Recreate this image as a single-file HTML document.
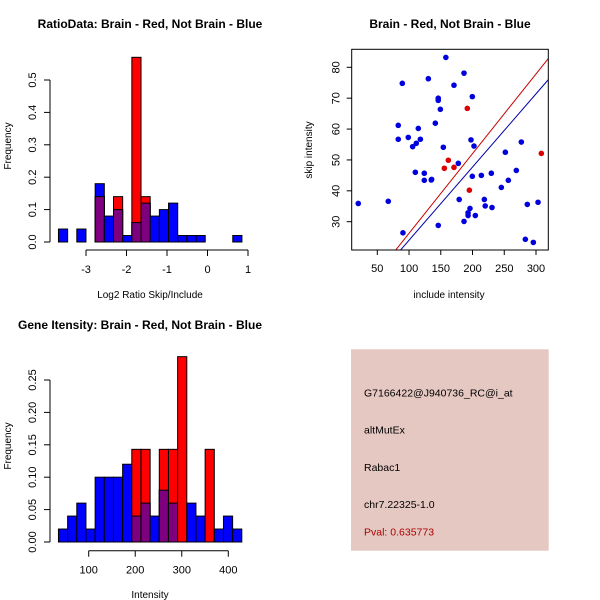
<!DOCTYPE html>
<html><head><meta charset="utf-8"><style>
body{margin:0;background:#fff;}
svg{display:block;font-family:"Liberation Sans",sans-serif;}
</style></head><body>
<svg id="s" width="600" height="600" viewBox="0 0 600 600"></svg>
<script>
// Panel 1: log2 ratio histogram (20 bins)
const ratioBinStart = -3.68;
const ratioBinWidth = 0.2265;
const ratioBlue = [0.04,0,0.04,0,0.18,0.08,0.10,0.02,0.06,0.12,0.08,0.10,0.12,0.02,0.02,0.02,0,0,0,0.02];
const ratioRed  = [0,0,0,0,0.14,0,0.14,0,0.57,0.14,0,0,0,0,0,0,0,0,0,0];
const ratioXTicks = [-3,-2,-1,0,1];
const ratioYTicks = [0,0.1,0.2,0.3,0.4,0.5];
const ratioYLabels = ["0.0","0.1","0.2","0.3","0.4","0.5"];
// Panel 2: scatter
const blueX = [20,67.3,90.4,89.4,83,83,98.8,105.7,111.4,114.6,117.8,109.9,124,124,135,135.6,130.4,141.4,146,146,149.3,154,146,158,170.8,186.6,199.7,197.6,202.3,177.6,179,186.6,193,193,196,204.4,199.7,213.9,218.6,220,230.7,229.6,245.4,251.7,256.4,269,276.9,286.3,283.2,295.8,303.2];
const blueY = [35.9,36.6,26.4,74.8,61.2,56.7,57.3,54.3,55.4,60.2,56.7,46,45.7,43.4,43.5,43.7,76.3,61.9,70,69.3,66.4,54.1,28.8,83.2,74.2,78.1,70.5,56.5,54.5,48.9,37.2,30.1,32.9,32,34.3,32,44.7,45,37.2,35.1,34.6,45.7,41.1,52.5,43.4,46.6,55.8,35.6,24.3,23.3,36.3];
const redX = [191.8,161.9,155.6,170.8,195,308.4];
const redY = [66.7,49.9,47.3,47.6,40.2,52.1];
const lineSlopes = [0.258,0.237];
const lineIntercepts = [0.44,0.3];
const scatXTicks = [50,100,150,200,250,300];
const scatYTicks = [30,40,50,60,70,80];
// Panel 3: intensity histogram
const intBinStart = 35;
const intBinWidth = 19.7;
const intBlue = [0.02,0.04,0.06,0.02,0.10,0.10,0.10,0.12,0.04,0.06,0.04,0.08,0.06,0,0.06,0.04,0,0.02,0.04,0.02];
const intRed  = [0,0,0,0,0,0,0,0,0.143,0.143,0,0.143,0.143,0.286,0,0,0.143,0,0,0];
const intXTicks = [100,200,300,400];
const intYTicks = [0,0.05,0.1,0.15,0.2,0.25];
const intYLabels = ["0.00","0.05","0.10","0.15","0.20","0.25"];

const NS="http://www.w3.org/2000/svg";
const svg=document.getElementById('s');
function mk(tag,attrs,parent){const e=document.createElementNS(NS,tag);for(const k in attrs)e.setAttribute(k,attrs[k]);(parent||svg).appendChild(e);return e;}
function txt(str,x,y,opts,parent){const t=mk('text',Object.assign({x:x,y:y,'font-size':11,fill:'#000'},opts||{}),parent);t.textContent=str;return t;}
function lin(a,b,c,d){return v=>c+(v-a)*(d-c)/(b-a);}

function hist(g,start,w,blue,red,sx,sy,prefix){
  for(let i=0;i<blue.length;i++){
    const x0=sx(start+i*w),x1=sx(start+(i+1)*w);
    const b=blue[i],r=red[i];
    if(b>0){const e=mk('rect',{x:x0,y:sy(b),width:x1-x0,height:sy(0)-sy(b),fill:'#0000ff',stroke:'#000','stroke-width':1},g);
      
      }
    if(r>0){const e=mk('rect',{x:x0,y:sy(r),width:x1-x0,height:sy(0)-sy(r),fill:'#ff0000',stroke:'#000','stroke-width':1},g);
      
      }
    const m=Math.min(b,r);
    if(m>0){const e=mk('rect',{x:x0,y:sy(m),width:x1-x0,height:sy(0)-sy(m),fill:'#7f007f',stroke:'#000','stroke-width':1},g);
      
      }
  }
}
function yAxis(g,x,ticks,labels,sy,name){
  const a=mk('g',{},g);
  
  
  mk('line',{x1:x,x2:x,y1:sy(ticks[0]),y2:sy(ticks[ticks.length-1]),stroke:'#000'},a);
  ticks.forEach((t,i)=>{const y=sy(t);mk('line',{x1:x-6,x2:x,y1:y,y2:y,stroke:'#000'},a);
    txt(labels[i],x-14,y,{'text-anchor':'middle',transform:`rotate(-90 ${x-14} ${y})`},a);});
}
function xAxis(g,y,ticks,labels,sx,name){
  const a=mk('g',{},g);
  
  
  mk('line',{x1:sx(ticks[0]),x2:sx(ticks[ticks.length-1]),y1:y,y2:y,stroke:'#000'},a);
  ticks.forEach((t,i)=>{const x=sx(t);mk('line',{x1:x,x2:x,y1:y,y2:y+6,stroke:'#000'},a);
    txt(labels[i],x,y+23,{'text-anchor':'middle'},a);});
}

// Panel 1
{
  const g=mk('g',{});
  const sx=lin(-3,1,86,248), sy=lin(0,0.5,242,80);
  hist(g,ratioBinStart,ratioBinWidth,ratioBlue,ratioRed,sx,sy,'ratio');
  yAxis(g,50,ratioYTicks,ratioYLabels,sy,'ratio-y-axis');
  xAxis(g,250,ratioXTicks,ratioXTicks.map(String),sx,'ratio-x-axis');
  const t=txt('RatioData: Brain - Red, Not Brain - Blue',150,28,{'text-anchor':'middle','font-weight':'bold','font-size':12},g);
  const xl=txt('Log2 Ratio Skip/Include',150,298,{'text-anchor':'middle','font-size':10},g);
  const yl=txt('Frequency',11,146,{'text-anchor':'middle','font-size':10,transform:'rotate(-90 11 146)'},g);
}
// Panel 2
{
  const g=mk('g',{});
  const sx=lin(50,300,377.3,536), sy=lin(30,80,221.7,67.3);
  const L=351.7,R=548.3,T=49.3,B=250;
  const cp=mk('clipPath',{id:'cp2'},g);mk('rect',{x:L,y:T,width:R-L,height:B-T},cp);
  const lines=mk('g',{'clip-path':'url(#cp2)'},g);
  const cols=['#cc0000','#0000aa'];
  lineSlopes.forEach((m,i)=>{const x0=0,x1=400;
    const e=mk('line',{x1:sx(x0),y1:sy(lineIntercepts[i]+m*x0),x2:sx(x1),y2:sy(lineIntercepts[i]+m*x1),stroke:cols[i],'stroke-width':1},lines);
    
    });
  blueX.forEach((x,i)=>{const e=mk('circle',{cx:sx(x),cy:sy(blueY[i]),r:2.8,fill:'#0000dd'},g);
    
    });
  redX.forEach((x,i)=>{const e=mk('circle',{cx:sx(x),cy:sy(redY[i]),r:2.8,fill:'#dd0000'},g);
    
    });
  const box=mk('rect',{x:L,y:T,width:R-L,height:B-T,fill:'none',stroke:'#000'},g);
  const xa=mk('g',{},g);
  scatXTicks.forEach(t=>{const x=sx(t);mk('line',{x1:x,x2:x,y1:B,y2:B+5,stroke:'#000'},xa);txt(String(t),x,B+22,{'text-anchor':'middle'},xa);});
  const ya=mk('g',{},g);
  scatYTicks.forEach(t=>{const y=sy(t);mk('line',{x1:L-5,x2:L,y1:y,y2:y,stroke:'#000'},ya);txt(String(t),L-12,y,{'text-anchor':'middle',transform:`rotate(-90 ${L-12} ${y})`},ya);});
  const t=txt('Brain - Red, Not Brain - Blue',450,28,{'text-anchor':'middle','font-weight':'bold','font-size':12},g);
  const xl=txt('include intensity',449,298,{'text-anchor':'middle','font-size':10},g);
  const yl=txt('skip intensity',312,150,{'text-anchor':'middle','font-size':10,transform:'rotate(-90 312 150)'},g);
}
// Panel 3
{
  const g=mk('g',{});
  const sx=lin(100,400,88.7,228.3), sy=lin(0,0.25,542,380);
  hist(g,intBinStart,intBinWidth,intBlue,intRed,sx,sy,'intensity');
  yAxis(g,50,intYTicks,intYLabels,sy,'intensity-y-axis');
  xAxis(g,550.7,intXTicks,intXTicks.map(String),sx,'intensity-x-axis');
  const t=txt('Gene Itensity: Brain - Red, Not Brain - Blue',140,329,{'text-anchor':'middle','font-weight':'bold','font-size':12},g);
  const xl=txt('Intensity',150,598,{'text-anchor':'middle','font-size':10},g);
  const yl=txt('Frequency',11,446,{'text-anchor':'middle','font-size':10,transform:'rotate(-90 11 446)'},g);
}
// Panel 4
{
  const g=mk('g',{});
  mk('rect',{x:351,y:349.3,width:197.7,height:201.4,fill:'#e6c8c2'},g);
  const lines=[['G7166422@J940736_RC@i_at',396.5,'#000','probe-id'],['altMutEx',433.5,'#000','event-type'],['Rabac1',471,'#000','gene-name'],['chr7.22325-1.0',508,'#000','location'],['Pval: 0.635773',535.5,'#aa0000','p-value']];
  lines.forEach(l=>{const e=txt(l[0],364,l[1],{fill:l[2],'font-size':10.5},g);
    
    });
}
</script>
</body></html>
